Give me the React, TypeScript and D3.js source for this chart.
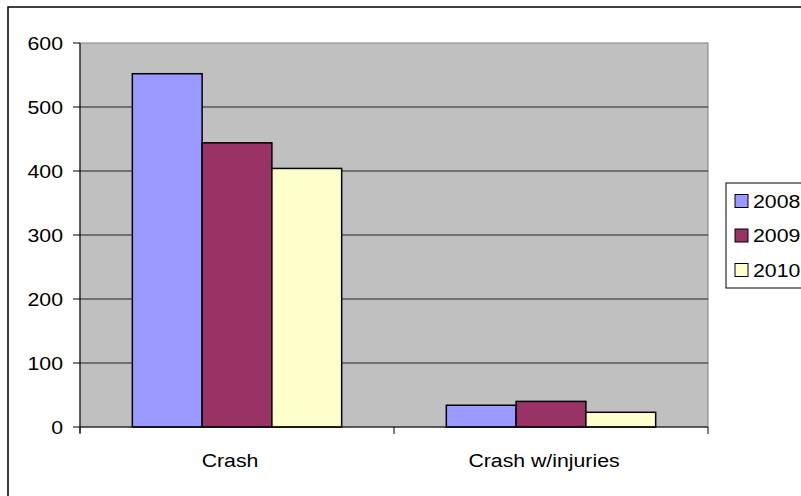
import React from 'react';
import * as d3 from 'd3';

const categories = ['Crash', 'Crash w/injuries'];
const seriesNames = ['2008', '2009', '2010'];
const seriesColors = ['#9999FF', '#993366', '#FFFFCC'];
const values2008 = [552, 34];
const values2009 = [444, 40];
const values2010 = [404, 23];
const yTicks = [0, 100, 200, 300, 400, 500, 600];

const seriesValues = [values2008, values2009, values2010];

// text in the source is a bit wider than Arial at its height
const Label: React.FC<{ x: number; y: number; anchor?: 'start' | 'middle' | 'end'; children: React.ReactNode }> = ({
  x,
  y,
  anchor = 'start',
  children,
}) => (
  <text
    transform={`translate(${x},${y}) scale(1.12,1)`}
    dy="0.35em"
    textAnchor={anchor}
    fontSize={19}
    fill="#000"
  >
    {children}
  </text>
);

export default function App() {
  const width = 801;
  const height = 496;
  const plot = { left: 80, right: 708, top: 43, bottom: 427 };

  const y = d3.scaleLinear().domain([0, 600]).range([plot.bottom, plot.top]);
  const x0 = d3.scaleBand<string>().domain(categories).range([plot.left, plot.right]);
  const x1 = d3.scaleBand<string>()
    .domain(seriesNames)
    .range([0, x0.bandwidth()])
    .paddingInner(0)
    .paddingOuter(0.75);

  const font = '"Liberation Sans", Arial, sans-serif';
  const legendY = d3.scalePoint<string>().domain(seriesNames).range([201, 270]);

  return (
    <svg
      width={width}
      height={height}
      style={{ position: 'absolute', left: 0, top: 0, fontFamily: font }}
    >
      <rect x={0} y={0} width={width} height={height} fill="#fff" />
      {/* chart frame */}
      <rect x={8} y={7} width={820} height={520} fill="none" stroke="#000" strokeWidth={1.5} />

      {/* plot area */}
      <rect
        x={plot.left}
        y={plot.top}
        width={plot.right - plot.left}
        height={plot.bottom - plot.top}
        fill="#C0C0C0"
        stroke="#808080"
        strokeWidth={1}
      />

      {/* gridlines */}
      {yTicks.filter(t => t > 0 && t < 600).map(t => (
        <line key={t} x1={plot.left} x2={plot.right} y1={y(t)} y2={y(t)} stroke="#222" strokeWidth={1} />
      ))}

      {/* bars */}
      {categories.map((c, ci) => (
        <g key={c} transform={`translate(${x0(c)},0)`}>
          {seriesNames.map((s, si) => (
            <rect
              key={s}
              x={x1(s)}
              y={y(seriesValues[si][ci])}
              width={x1.bandwidth()}
              height={y(0) - y(seriesValues[si][ci])}
              fill={seriesColors[si]}
              stroke="#000"
              strokeWidth={1.5}
            />
          ))}
        </g>
      ))}

      {/* y axis */}
      <line x1={plot.left} x2={plot.left} y1={plot.top} y2={plot.bottom + 6} stroke="#000" strokeWidth={1} />
      {yTicks.map(t => (
        <g key={t}>
          <line x1={plot.left - 7} x2={plot.left} y1={y(t)} y2={y(t)} stroke="#000" strokeWidth={1} />
          <Label x={63} y={y(t)} anchor="end">{t}</Label>
        </g>
      ))}

      {/* x axis */}
      <line x1={plot.left} x2={plot.right} y1={plot.bottom} y2={plot.bottom} stroke="#000" strokeWidth={1} />
      {[plot.left, ...categories.map(c => (x0(c) ?? 0) + x0.bandwidth())].map((xv, i) => (
        <line key={i} x1={xv} x2={xv} y1={plot.bottom} y2={plot.bottom + 7} stroke="#000" strokeWidth={1} />
      ))}
      {categories.map(c => (
        <Label key={c} x={(x0(c) ?? 0) + x0.bandwidth() / 2 - 7} y={460} anchor="middle">
          {c}
        </Label>
      ))}

      {/* legend */}
      <rect x={726} y={183} width={100} height={105} fill="#fff" stroke="#000" strokeWidth={1} />
      {seriesNames.map((s, i) => (
        <g key={s}>
          <rect
            x={735}
            y={(legendY(s) ?? 0) - 6.5}
            width={13}
            height={13}
            fill={seriesColors[i]}
            stroke="#000"
            strokeWidth={1}
          />
          <Label x={753} y={legendY(s) ?? 0}>{s}</Label>
        </g>
      ))}
    </svg>
  );
}
